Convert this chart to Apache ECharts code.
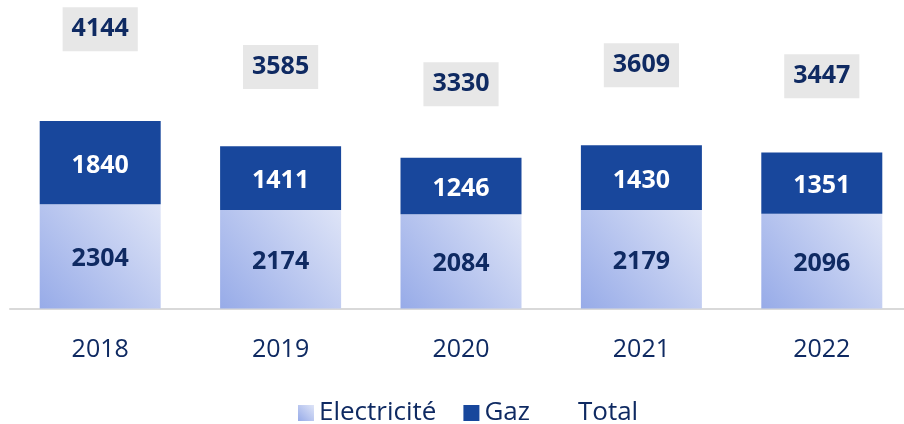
<!DOCTYPE html>
<html><head><meta charset="utf-8">
<script src="https://cdn.jsdelivr.net/npm/echarts@6/dist/echarts.min.js"></script>
<style>html,body{margin:0;padding:0;background:#fff;overflow:hidden;width:904px;height:424px}#c{width:912px;height:424px}</style>
</head><body><div id="c"></div>
<script>
const years = ['2018', '2019', '2020', '2021', '2022'];
const electricite = [2304, 2174, 2084, 2179, 2096];
const gaz = [1840, 1411, 1246, 1430, 1351];
const total = [4144, 3585, 3330, 3609, 3447];

const FONT = '"Open Sans", "Liberation Sans", sans-serif';
const NAVY = '#0F2A62';
const elecGrad = new echarts.graphic.LinearGradient(0, 1, 1, 0, [
  { offset: 0, color: '#97ABE8' },
  { offset: 1, color: '#DEE4F7' }
]);

const chart = echarts.init(document.getElementById('c'));
chart.setOption({
  animation: false,
  textStyle: { fontFamily: FONT },
  grid: { left: 10, width: 902, top: 8, height: 300.5 },
  legend: {
    left: 298, top: 400, padding: 0,
    itemWidth: 16, itemHeight: 16, itemGap: 27,
    textStyle: { fontFamily: FONT, fontSize: 26, color: NAVY },
    data: [
      { name: 'Electricité', icon: 'rect', itemStyle: { color: elecGrad } },
      { name: 'Gaz', icon: 'rect' },
      { name: 'Total', icon: 'rect', itemStyle: { color: 'rgba(0,0,0,0)' } }
    ]
  },
  xAxis: {
    type: 'category', data: years,
    axisLine: { lineStyle: { color: '#D9D9D9', width: 2 } },
    axisTick: { show: false },
    axisLabel: { fontFamily: FONT, fontSize: 25, color: NAVY, margin: 29 }
  },
  yAxis: [
    { type: 'value', min: 0, max: 6640, show: false, splitLine: { show: false } },
    { type: 'value', min: 0, max: 4460, show: false, splitLine: { show: false } }
  ],
  series: [
    {
      name: 'Electricité', type: 'bar', stack: 's', barWidth: 121,
      data: electricite,
      itemStyle: { color: elecGrad },
      label: { show: true, position: 'inside', offset: [0, 3], fontFamily: FONT, fontSize: 25, fontWeight: 'bold', color: NAVY }
    },
    {
      name: 'Gaz', type: 'bar', stack: 's', barWidth: 121,
      data: gaz,
      itemStyle: { color: '#18479C' },
      label: { show: true, position: 'inside', offset: [0, 3], fontFamily: FONT, fontSize: 25, fontWeight: 'bold', color: '#FFFFFF' }
    },
    {
      name: 'Total', type: 'scatter', yAxisIndex: 1,
      data: total, symbolSize: 2,
      itemStyle: { color: 'rgba(0,0,0,0)', opacity: 1 },
      label: {
        show: true, position: 'inside', fontFamily: FONT, fontSize: 25, fontWeight: 'bold', color: NAVY,
        backgroundColor: '#E7E7E7', padding: [9, 9, 5, 9], lineHeight: 30
      }
    }
  ]
});
</script>
</body></html>
